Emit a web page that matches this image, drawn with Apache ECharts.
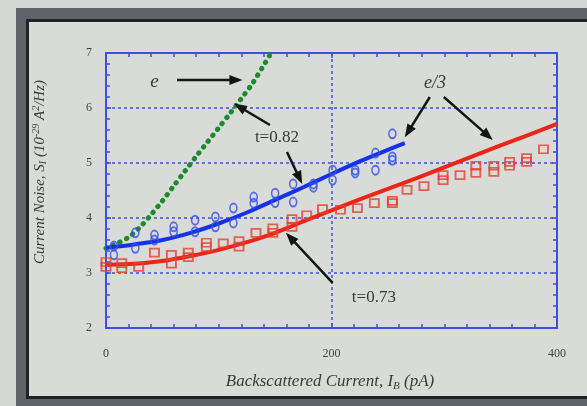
<!DOCTYPE html>
<html><head><meta charset="utf-8">
<script src="https://cdn.jsdelivr.net/npm/echarts@6/dist/echarts.min.js"></script>
<style>
html,body{margin:0;padding:0;width:587px;height:406px;overflow:hidden;background:#d5d7d5;}
#f1{position:absolute;left:16px;top:8px;width:700px;height:500px;background:#5e6467;}
#f2{position:absolute;left:26px;top:19px;width:700px;height:380px;background:#1f2325;}
#f3{position:absolute;left:29px;top:22px;width:700px;height:374px;background:#d9dbd9;}
#c{position:absolute;left:0;top:0;width:587px;height:406px;}
</style></head>
<body>
<div id="f1"></div><div id="f2"></div><div id="f3"></div>
<div id="c"></div>
<script>
// tick labels / axis ranges
const xTicks = [0, 200, 400];
const yTicks = [2, 3, 4, 5, 6, 7];

// measured points, t=0.82 (blue circles)
const blueX = [7,7,26,26,43,43,60,60,79,79,97,97,113,113,131,131,150,150,166,166,184,184,201,201,221,221,239,239,254,254,254];
const blueY = [3.49,3.33,3.73,3.45,3.69,3.6,3.84,3.75,3.96,3.75,4.02,3.84,4.18,3.91,4.38,4.27,4.45,4.28,4.62,4.29,4.62,4.56,4.87,4.69,4.87,4.82,5.18,4.87,5.53,5.11,5.05];

// measured points, t=0.73 (red squares)
const redX = [0,0,14,14,29,43,58,58,73,73,89,89,104,118,118,133,148,148,165,165,178,192,208,223,238,254,254,267,282,299,299,314,328,328,344,344,358,358,373,373,388];
const redY = [3.2,3.11,3.18,3.09,3.11,3.37,3.33,3.17,3.37,3.29,3.55,3.47,3.54,3.58,3.48,3.73,3.81,3.73,3.98,3.84,4.05,4.16,4.15,4.18,4.27,4.31,4.27,4.51,4.58,4.78,4.69,4.78,4.95,4.82,4.95,4.84,5.02,4.95,5.09,5.02,5.25];

// theory curves
const blueFitX = [0,25,50,75,100,125,150,175,200,225,250,265];
const blueFitY = [3.46,3.52,3.6,3.73,3.9,4.1,4.33,4.56,4.8,5.03,5.24,5.36];
const redFitX = [0,25,50,75,100,125,150,175,200,225,250,275,300,325,350,375,400];
const redFitY = [3.15,3.17,3.22,3.31,3.42,3.56,3.73,3.94,4.14,4.34,4.53,4.72,4.92,5.12,5.32,5.51,5.71];
const greenX = [0,10,20,30,40,50,60,70,80,90,100,110,120,130,140,145];
const greenY = [3.45,3.54,3.65,3.83,4.06,4.31,4.58,4.85,5.12,5.38,5.64,5.9,6.17,6.45,6.78,6.95];

// annotations (data coordinates)
const labels = [
  {text:'e', x:43, y:6.47, italic:true, size:19},
  {text:'t=0.82', x:151.6, y:5.47, italic:false, size:17},
  {text:'e/3', x:291.7, y:6.45, italic:true, size:18},
  {text:'t=0.73', x:237.6, y:2.56, italic:false, size:17}
];
const arrows = [
  [63, 6.51, 121, 6.51],
  [145.4, 5.69, 113.5, 6.08],
  [160.5, 5.2, 174, 4.62],
  [287.2, 6.2, 265, 5.47],
  [299.6, 6.2, 343, 5.42],
  [201, 2.82, 159.6, 3.73]
];

const zip = (a, b) => a.map((v, i) => [v, b[i]]);
const BLUE = '#3d50e6';
const FONT = '"Liberation Serif", "DejaVu Serif", serif';

const chart = echarts.init(document.getElementById('c'), null, {renderer:'canvas'});

function axisX(pos, show) {
  return {
    type:'value', position:pos, min:xTicks[0], max:xTicks[xTicks.length-1], interval:xTicks[1]-xTicks[0],
    axisLine:{show:true, onZero:false, lineStyle:{color:BLUE, width:2}},
    axisTick:{show:true, inside:true, length:5, lineStyle:{color:BLUE, width:1.5}},
    minorTick:{show:true, splitNumber:10, length:4, lineStyle:{color:BLUE, width:1.5}},
    splitLine:{show:show, lineStyle:{color:BLUE, width:1.5, type:[3,3]}},
    axisLabel:{show:show, margin:20, color:'#454545', fontFamily:FONT, fontSize:12}
  };
}
function axisY(pos, show) {
  return {
    type:'value', position:pos, min:yTicks[0], max:yTicks[yTicks.length-1], interval:yTicks[1]-yTicks[0],
    axisLine:{show:true, onZero:false, lineStyle:{color:BLUE, width:2}},
    axisTick:{show:true, inside:true, length:5, lineStyle:{color:BLUE, width:1.5}},
    minorTick:{show:true, splitNumber:5, length:4, lineStyle:{color:BLUE, width:1.5}},
    splitLine:{show:show, lineStyle:{color:BLUE, width:1.5, type:[3,3]}},
    axisLabel:{show:show, margin:14, color:'#454545', fontFamily:FONT, fontSize:12}
  };
}

chart.setOption({
  backgroundColor:'transparent',
  animation:false,
  grid:{left:106, top:53, right:30, bottom:78, containLabel:false},
  xAxis:[axisX('bottom', true), axisX('top', false)],
  yAxis:[axisY('left', true), axisY('right', false)],
  series:[
    {type:'line', data:zip(greenX, greenY), smooth:0.3, showSymbol:false, z:3,
     lineStyle:{color:'#1d8a2c', width:5, type:[0.5,7], cap:'round'}},
    {type:'line', data:zip(blueFitX, blueFitY), smooth:0.3, showSymbol:false, z:4,
     lineStyle:{color:'#1632e8', width:4}},
    {type:'line', data:zip(redFitX, redFitY), smooth:0.3, showSymbol:false, z:4,
     lineStyle:{color:'#ee2418', width:4}},
    {type:'scatter', data:zip(blueX, blueY), symbol:'circle', symbolSize:[7,9], z:5,
     itemStyle:{color:'rgba(0,0,0,0)', borderColor:'#3550ea', borderWidth:1.8}},
    {type:'scatter', data:zip(redX, redY), symbol:'rect', symbolSize:[9,8], z:5,
     itemStyle:{color:'rgba(0,0,0,0)', borderColor:'#e4402e', borderWidth:1.8}}
  ]
});

const toPx = (x, y) => chart.convertToPixel({xAxisIndex:0, yAxisIndex:0}, [x, y]);
const g = [];
labels.forEach(l => {
  const p = toPx(l.x, l.y);
  g.push({type:'text', x:p[0], y:p[1], z:20,
    style:{text:l.text, align:'center', verticalAlign:'middle', fill:'#3a3a3a',
      font:(l.italic?'italic ':'') + l.size + 'px ' + FONT}});
});
arrows.forEach(a => {
  const p1 = toPx(a[0], a[1]), p2 = toPx(a[2], a[3]);
  const dx = p2[0]-p1[0], dy = p2[1]-p1[1], len = Math.hypot(dx, dy);
  const ux = dx/len, uy = dy/len, L = 13, W = 5;
  const bx = p2[0]-ux*L, by = p2[1]-uy*L;
  g.push({type:'line', z:20, shape:{x1:p1[0], y1:p1[1], x2:bx+ux*2, y2:by+uy*2},
    style:{stroke:'#151515', lineWidth:2.5}});
  g.push({type:'polygon', z:20, shape:{points:[[p2[0],p2[1]],[bx-uy*W, by+ux*W],[bx+uy*W, by-ux*W]]},
    style:{fill:'#151515'}});
});
// axis titles
g.push({type:'text', x:330, y:382, z:20,
  style:{text:'Backscattered Current, I{sub|B} (pA)', align:'center', verticalAlign:'middle',
    fill:'#3a3a3a', font:'italic 17px ' + FONT,
    rich:{sub:{font:'italic 11px ' + FONT, fill:'#3a3a3a', verticalAlign:'bottom', padding:[8,0,0,0]}}}});
g.push({type:'text', x:40, y:172, rotation:Math.PI/2, z:20,
  style:{text:'Current Noise, S{sub|I} (10{sup|-29} A{sup|2}/Hz)', align:'center', verticalAlign:'middle',
    fill:'#3a3a3a', font:'italic 15px ' + FONT,
    rich:{sub:{font:'italic 10px ' + FONT, fill:'#3a3a3a', padding:[7,0,0,0]},
          sup:{font:'italic 10px ' + FONT, fill:'#3a3a3a', padding:[0,0,7,0]}}}});
chart.setOption({graphic:g});
</script>
</body></html>
